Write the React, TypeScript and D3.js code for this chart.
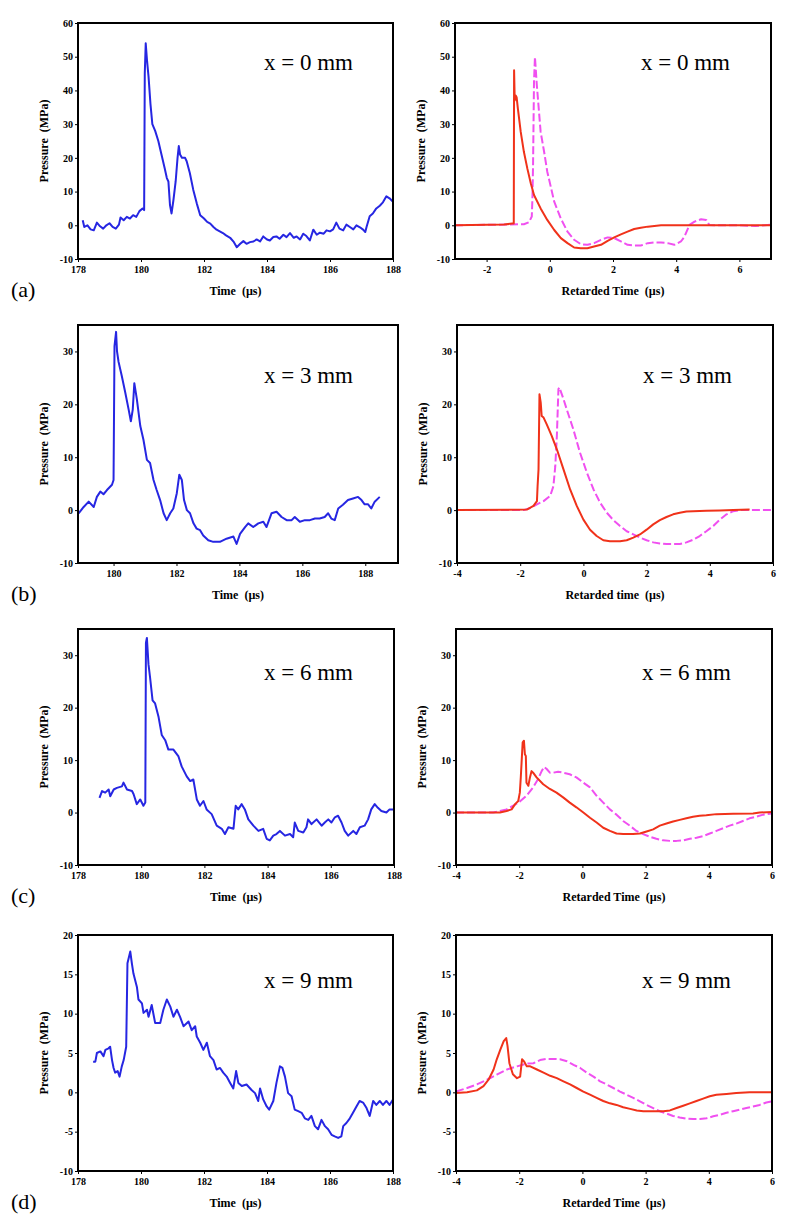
import { useEffect, useRef } from "react";
import * as d3 from "d3";

type Pt = [number, number];

// measured pressure (MPa) vs time (µs), left column
const measured0mm: Pt[] = [
  [178.15, 1.5], [178.2, -0.5], [178.3, 0], [178.4, -1.2], [178.5, -1.5], [178.6, 0.8], [178.7, -0.3], [178.8, -1],
  [178.9, 0], [179.0, 0.6], [179.1, -0.5], [179.2, -1], [179.3, 0.2], [179.35, 2.3], [179.45, 1.5], [179.55, 2.5],
  [179.65, 2], [179.75, 3], [179.85, 2.5], [179.95, 4.2], [180.05, 5], [180.1, 4.5], [180.12, 45], [180.15, 54],
  [180.19, 49], [180.24, 44], [180.3, 36], [180.36, 30], [180.45, 28], [180.55, 25], [180.65, 21], [180.75, 17],
  [180.82, 14], [180.87, 13], [180.92, 6], [180.97, 3.5], [181.03, 7.5], [181.1, 13], [181.16, 20], [181.2, 23.5],
  [181.24, 21], [181.3, 20], [181.4, 20], [181.45, 19], [181.55, 15.5], [181.66, 10.5], [181.77, 6.5], [181.88, 3],
  [182.0, 2], [182.1, 1], [182.2, 0.5], [182.3, -0.5], [182.4, -1.3], [182.5, -1.8], [182.6, -2.3], [182.7, -3],
  [182.83, -3.7], [182.95, -5], [183.04, -6.5], [183.15, -5.5], [183.25, -4.7], [183.35, -5.5], [183.46, -5],
  [183.57, -4.8], [183.67, -4.2], [183.78, -4.8], [183.88, -3.3], [184.0, -4.2], [184.09, -4.5], [184.2, -3.5],
  [184.3, -3.3], [184.4, -4], [184.52, -2.8], [184.62, -3.5], [184.73, -2.3], [184.85, -3.7], [184.94, -3.3],
  [185.05, -4.2], [185.15, -2.5], [185.25, -3.2], [185.36, -4.5], [185.47, -1.3], [185.58, -2.8], [185.68, -2.2],
  [185.8, -2.5], [185.89, -1.5], [186.0, -1.8], [186.1, -1.2], [186.2, 0.8], [186.3, -1], [186.42, -1.5],
  [186.52, 0.2], [186.63, -0.5], [186.74, -1.2], [186.84, 0], [186.95, -0.6], [187.05, -1.3], [187.12, -2],
  [187.16, -0.5], [187.26, 2.7], [187.36, 3.5], [187.47, 5], [187.58, 5.8], [187.68, 6.8], [187.79, 8.6],
  [187.89, 8], [188.0, 7],
];

const measured3mm: Pt[] = [
  [178.89, -0.6], [179.05, 0.6], [179.21, 1.6], [179.37, 0.6], [179.47, 2.5], [179.58, 3.5], [179.68, 3], [179.79, 3.8],
  [179.95, 4.8], [180.0, 5.7], [180.03, 31], [180.08, 33.7], [180.11, 30], [180.16, 28], [180.26, 25.4], [180.37, 22.3],
  [180.48, 19], [180.55, 16.8], [180.61, 19], [180.66, 24], [180.74, 21], [180.85, 15.9], [180.95, 13.3], [181.06, 9.5],
  [181.16, 8.9], [181.27, 5.7], [181.37, 3.8], [181.48, 1.9], [181.59, -0.6], [181.69, -1.9], [181.8, -0.6], [181.9, 0.3],
  [182.01, 3.2], [182.09, 6.7], [182.17, 5.7], [182.24, 1.9], [182.33, 0], [182.43, -0.6], [182.54, -2.5], [182.64, -3.5],
  [182.75, -3.8], [182.85, -4.8], [183.01, -5.7], [183.17, -6], [183.38, -6], [183.59, -5.4], [183.81, -5], [183.91, -6.4],
  [184.02, -4.5], [184.18, -3.2], [184.28, -2.5], [184.44, -3.2], [184.6, -2.5], [184.76, -2.2], [184.86, -3.2],
  [185.02, -0.6], [185.18, -0.3], [185.34, -1.3], [185.5, -1.9], [185.66, -1.9], [185.76, -1.3], [185.92, -2.2],
  [186.08, -1.9], [186.24, -1.9], [186.4, -1.6], [186.55, -1.6], [186.71, -1.3], [186.82, -0.6], [186.92, -1.6],
  [187.03, -1.9], [187.14, 0.3], [187.29, 1], [187.45, 1.9], [187.61, 2.2], [187.77, 2.5], [187.88, 1.9],
  [187.98, 1.1], [188.09, 1.1], [188.19, 0.3], [188.3, 1.6], [188.46, 2.5],
];

const measured6mm: Pt[] = [
  [178.68, 2.8], [178.76, 4.1], [178.86, 3.8], [178.97, 4.4], [179.02, 3.1], [179.13, 4.4], [179.23, 4.7], [179.39, 5],
  [179.44, 5.7], [179.55, 4.4], [179.71, 4.1], [179.76, 3.5], [179.86, 1.6], [179.97, 2.5], [180.07, 1.3], [180.13, 1.9],
  [180.15, 32.4], [180.18, 33.3], [180.23, 28.3], [180.28, 25.8], [180.36, 21.4], [180.44, 20.8], [180.55, 18.2],
  [180.65, 14.8], [180.76, 13.8], [180.86, 12], [181.02, 12], [181.18, 10.7], [181.28, 8.8], [181.44, 6.9], [181.55, 6],
  [181.65, 6.3], [181.76, 2.5], [181.86, 1.3], [181.97, 2.2], [182.07, 0.6], [182.23, -0.3], [182.39, -2.5],
  [182.55, -3.1], [182.65, -4.1], [182.76, -2.8], [182.92, -3.1], [182.99, 1.3], [183.07, 0.6], [183.18, 1.6],
  [183.28, 0.6], [183.39, -1.3], [183.55, -2.5], [183.71, -3.5], [183.86, -3.1], [183.97, -5], [184.07, -5.3],
  [184.18, -4.4], [184.28, -4.1], [184.39, -3.5], [184.55, -4.4], [184.71, -4.1], [184.81, -4.7], [184.86, -1.9],
  [184.97, -3.5], [185.13, -3.8], [185.23, -2.8], [185.28, -1.3], [185.39, -2.2], [185.55, -1.3], [185.71, -2.5],
  [185.81, -1.9], [185.92, -1.3], [186.02, -1.9], [186.13, -0.9], [186.23, -0.6], [186.34, -1.9], [186.44, -3.5],
  [186.55, -4.4], [186.71, -3.5], [186.81, -4.1], [186.92, -2.8], [187.07, -2.5], [187.18, -1.3], [187.28, 0.6],
  [187.39, 1.6], [187.49, 0.9], [187.6, 0.3], [187.76, 0], [187.86, 0.6], [187.97, 0.6],
];

const measured9mm: Pt[] = [
  [178.48, 3.9], [178.55, 3.9], [178.6, 5], [178.71, 5.2], [178.81, 4.6], [178.87, 5.4], [178.97, 5.6], [179.02, 5.8],
  [179.08, 4.1], [179.13, 3.1], [179.18, 2.5], [179.26, 2.7], [179.32, 2], [179.39, 3.3], [179.45, 4.1], [179.53, 5.8],
  [179.57, 16.4], [179.66, 17.9], [179.71, 16.4], [179.76, 15.1], [179.87, 13.4], [179.92, 11.8], [180.03, 11.3],
  [180.08, 10.1], [180.19, 10.5], [180.24, 9.6], [180.34, 11.1], [180.45, 8.8], [180.61, 8.8], [180.71, 10.5],
  [180.82, 11.8], [180.93, 10.9], [181.03, 9.6], [181.14, 10.5], [181.24, 9.6], [181.35, 8.4], [181.51, 9],
  [181.61, 7.9], [181.72, 8.4], [181.77, 7.1], [181.88, 6.3], [181.98, 5.4], [182.09, 6.3], [182.19, 4.6], [182.3, 4.1],
  [182.4, 2.9], [182.51, 3.1], [182.61, 2.5], [182.72, 2], [182.83, 1.2], [182.93, 0.5], [183.02, 2.7], [183.09, 1.2],
  [183.2, 0.8], [183.35, 1], [183.51, 0.3], [183.62, -0.1], [183.72, -1.1], [183.78, 0.5], [183.88, -0.9],
  [183.99, -1.8], [184.07, -2.2], [184.2, -1.1], [184.3, 1.2], [184.41, 3.3], [184.49, 3.1], [184.57, 2],
  [184.67, -0.1], [184.78, -0.5], [184.88, -2.2], [184.99, -2.4], [185.1, -2.6], [185.2, -3.3], [185.31, -3.5],
  [185.41, -3], [185.52, -4.3], [185.62, -4.7], [185.73, -3.5], [185.84, -4.3], [185.94, -4.7], [186.05, -5.4],
  [186.15, -5.6], [186.26, -5.8], [186.36, -5.6], [186.42, -4.3], [186.52, -3.9], [186.63, -3.3], [186.73, -2.6],
  [186.84, -1.8], [186.94, -1.1], [187.05, -1.3], [187.16, -2], [187.26, -3], [187.37, -1.1], [187.47, -1.6],
  [187.58, -1.1], [187.68, -1.6], [187.79, -1.1], [187.89, -1.6], [188.0, -0.9],
];

// solid red curves vs retarded time (right column)
const solid0mm: Pt[] = [
  [-3, 0], [-1.45, 0.2], [-1.19, 0.5], [-1.14, 0.5], [-1.13, 46], [-1.11, 37], [-1.08, 38.5], [-1.05, 38],
  [-1.01, 34.6], [-0.92, 27.7], [-0.82, 21.8], [-0.71, 16.8], [-0.6, 12.4], [-0.5, 9], [-0.29, 5], [-0.08, 1.6],
  [0.14, -1.4], [0.35, -3.8], [0.56, -5.3], [0.77, -6.6], [0.98, -6.8], [1.19, -6.8], [1.4, -6.3], [1.62, -5.8],
  [1.83, -4.6], [2.04, -3.6], [2.25, -2.7], [2.46, -1.9], [2.67, -1.1], [2.88, -0.7], [3.1, -0.4], [3.31, -0.2],
  [3.52, 0], [7, 0],
];
const dashed0mm: Pt[] = [
  [-3, 0], [-0.82, 0.3], [-0.66, 0.9], [-0.57, 2.6], [-0.55, 8], [-0.53, 17.8], [-0.5, 42.5], [-0.47, 49.9],
  [-0.41, 41.5], [-0.29, 27.7], [-0.18, 21.8], [-0.08, 15.9], [0.14, 7], [0.35, 2], [0.56, -1.9], [0.77, -4.3],
  [0.98, -5.6], [1.19, -5.8], [1.4, -5.3], [1.62, -4.3], [1.83, -3.6], [2.04, -3.8], [2.25, -4.8], [2.46, -5.8],
  [2.67, -6], [2.88, -6], [3.1, -5.3], [3.31, -5.1], [3.52, -5.1], [3.73, -5.3], [3.94, -5.8], [4.15, -4.8],
  [4.26, -3.4], [4.42, 0.1], [4.58, 1.1], [4.79, 1.8], [4.95, 1.6], [5.05, 0.1], [5.21, 0], [6, 0], [6.5, -0.2], [7, 0.2],
];

const solid3mm: Pt[] = [
  [-4, 0], [-1.79, 0.1], [-1.58, 0.8], [-1.47, 1.7], [-1.45, 4.5], [-1.42, 7.7], [-1.39, 21.9], [-1.35, 20.3],
  [-1.32, 17.8], [-1.26, 17.5], [-1.16, 16.2], [-1.0, 14], [-0.84, 11.5], [-0.63, 7.7], [-0.42, 3.9], [-0.21, 0.8],
  [0, -1.8], [0.21, -3.7], [0.42, -4.9], [0.63, -5.7], [0.84, -5.9], [1.16, -5.9], [1.37, -5.7], [1.58, -5.2],
  [1.79, -4.6], [2.0, -3.7], [2.21, -2.7], [2.42, -1.9], [2.63, -1.3], [2.84, -0.8], [3.05, -0.5], [3.26, -0.25],
  [3.47, -0.2], [3.89, -0.1], [4.32, -0.05], [4.74, 0], [5.26, 0.1],
];
const dashed3mm: Pt[] = [
  [-4, 0], [-1.89, 0], [-1.68, 0.4], [-1.47, 1.1], [-1.26, 1.7], [-1.05, 2.7], [-0.95, 4.5], [-0.89, 8.3],
  [-0.84, 14], [-0.79, 22.9], [-0.76, 23.2], [-0.63, 21], [-0.53, 19.1], [-0.32, 15.3], [-0.11, 10.9], [0.11, 7.1],
  [0.32, 3.9], [0.53, 1.4], [0.74, -0.5], [0.95, -1.9], [1.16, -3], [1.37, -4], [1.58, -4.6], [1.79, -5.2],
  [2.0, -5.7], [2.21, -6.1], [2.42, -6.3], [2.63, -6.4], [2.84, -6.4], [3.05, -6.4], [3.26, -6.1], [3.47, -5.6],
  [3.68, -4.9], [3.89, -4], [4.11, -3], [4.32, -1.8], [4.53, -0.8], [4.74, -0.2], [4.95, 0], [6, 0],
];

const solid6mm: Pt[] = [
  [-4, 0], [-2.82, 0], [-2.61, 0], [-2.4, 0.3], [-2.24, 0.6], [-2.13, 1.6], [-2.03, 2.2], [-1.98, 3.8],
  [-1.95, 6.7], [-1.89, 13.4], [-1.85, 13.7], [-1.82, 11.1], [-1.79, 10.8], [-1.77, 5.7], [-1.71, 5.1], [-1.66, 6.7],
  [-1.61, 7.9], [-1.56, 7.6], [-1.45, 6.7], [-1.24, 5.4], [-1.03, 4.5], [-0.82, 3.8], [-0.61, 2.9], [-0.4, 1.9],
  [-0.19, 1], [0.03, 0], [0.24, -1], [0.45, -1.9], [0.66, -2.9], [0.87, -3.5], [1.08, -4], [1.29, -4.1], [1.6, -4.1],
  [1.82, -4], [2.03, -3.6], [2.24, -3.2], [2.45, -2.5], [2.66, -2.1], [2.87, -1.7], [3.08, -1.4], [3.29, -1.1],
  [3.5, -0.8], [3.71, -0.6], [3.92, -0.5], [4.24, -0.3], [4.77, -0.25], [5.4, -0.2], [5.61, 0], [6, 0.1],
];
const dashed6mm: Pt[] = [
  [-4, 0], [-2.82, 0], [-2.61, 0.3], [-2.4, 0.6], [-2.19, 1.3], [-1.98, 2.1], [-1.77, 3.2], [-1.56, 4.8],
  [-1.4, 6.4], [-1.29, 7.9], [-1.21, 8.7], [-1.13, 8.3], [-1.03, 7.6], [-0.92, 7.6], [-0.77, 7.8], [-0.61, 7.6],
  [-0.4, 7.3], [-0.19, 6.7], [0.03, 5.7], [0.24, 4.8], [0.45, 3.2], [0.66, 1.9], [0.87, 0.6], [1.08, -0.4],
  [1.29, -1.6], [1.5, -2.5], [1.71, -3.5], [1.92, -4.1], [2.13, -4.6], [2.34, -5], [2.55, -5.3], [2.77, -5.4],
  [2.98, -5.4], [3.19, -5.3], [3.4, -5], [3.61, -4.8], [3.82, -4.5], [4.03, -4], [4.24, -3.5], [4.45, -3],
  [4.66, -2.5], [4.87, -2.1], [5.08, -1.6], [5.29, -1.1], [5.5, -0.8], [5.72, -0.4], [6.0, -0.2],
];

const solid9mm: Pt[] = [
  [-4, -0.1], [-3.65, 0], [-3.34, 0.25], [-3.13, 0.8], [-2.97, 1.6], [-2.81, 2.9], [-2.71, 4.2], [-2.6, 5.4],
  [-2.49, 6.5], [-2.41, 6.9], [-2.37, 5.9], [-2.31, 3.7], [-2.2, 2.3], [-2.07, 1.8], [-1.97, 2], [-1.91, 4.2],
  [-1.84, 3.9], [-1.76, 3.3], [-1.65, 3.3], [-1.44, 2.9], [-1.23, 2.5], [-1.02, 2.1], [-0.81, 1.8], [-0.6, 1.4],
  [-0.39, 1], [-0.18, 0.55], [0.03, 0.1], [0.24, -0.3], [0.45, -0.7], [0.66, -1.1], [0.87, -1.4], [1.08, -1.6],
  [1.29, -1.9], [1.51, -2.1], [1.72, -2.3], [1.93, -2.4], [2.24, -2.4], [2.56, -2.4], [2.77, -2.3], [2.98, -2],
  [3.19, -1.7], [3.4, -1.4], [3.61, -1.1], [3.82, -0.8], [4.03, -0.5], [4.24, -0.3], [4.56, -0.2], [4.87, -0.1],
  [5.29, 0], [6, 0],
];
const dashed9mm: Pt[] = [
  [-4, 0.1], [-3.65, 0.55], [-3.34, 1], [-3.02, 1.6], [-2.71, 2.25], [-2.39, 2.9], [-2.07, 3.3], [-1.76, 3.65],
  [-1.55, 3.7], [-1.34, 4.1], [-1.13, 4.25], [-0.92, 4.25], [-0.71, 4.2], [-0.49, 3.95], [-0.28, 3.5], [-0.07, 3.1],
  [0.14, 2.5], [0.35, 2], [0.56, 1.4], [0.77, 1], [0.98, 0.55], [1.19, 0.1], [1.4, -0.3], [1.61, -0.7], [1.82, -1.15],
  [2.03, -1.6], [2.24, -2], [2.45, -2.4], [2.66, -2.7], [2.87, -3], [3.08, -3.2], [3.29, -3.35], [3.51, -3.4],
  [3.72, -3.4], [3.93, -3.3], [4.14, -3.05], [4.35, -2.85], [4.56, -2.6], [4.77, -2.4], [4.98, -2.2], [5.19, -2],
  [5.4, -1.8], [5.61, -1.6], [5.82, -1.3], [6.0, -1.15],
];

// axes
const positions = ["x = 0 mm", "x = 3 mm", "x = 6 mm", "x = 9 mm"];
const panelTags = ["(a)", "(b)", "(c)", "(d)"];
const timeDomains: Pt[] = [[178, 188], [178.87, 189.04], [178, 188], [178, 188]];
const timeTicks = [[178, 180, 182, 184, 186, 188], [180, 182, 184, 186, 188], [178, 180, 182, 184, 186, 188], [178, 180, 182, 184, 186, 188]];
const retardedDomains: Pt[] = [[-3, 7], [-4, 6], [-4, 6], [-4, 6]];
const retardedTicks = [[-2, 0, 2, 4, 6], [-4, -2, 0, 2, 4, 6], [-4, -2, 0, 2, 4, 6], [-4, -2, 0, 2, 4, 6]];
const pressureDomains: Pt[] = [[-10, 60], [-10, 35], [-10, 35], [-10, 20]];
const pressureTicks = [[-10, 0, 10, 20, 30, 40, 50, 60], [-10, 0, 10, 20, 30], [-10, 0, 10, 20, 30], [-10, -5, 0, 5, 10, 15, 20]];
const retardedTitles = ["Retarded Time  (µs)", "Retarded time  (µs)", "Retarded Time  (µs)", "Retarded Time  (µs)"];

const measured = [measured0mm, measured3mm, measured6mm, measured9mm];
const solid = [solid0mm, solid3mm, solid6mm, solid9mm];
const dashed = [dashed0mm, dashed3mm, dashed6mm, dashed9mm];

// page layout of each row
const rows = [
  { top: 23, bottom: 259, left: [78, 393], right: [455, 771], tagY: 70 },
  { top: 325, bottom: 563, left: [78, 398], right: [457, 773], tagY: 383 },
  { top: 629, bottom: 865, left: [78, 394], right: [456, 772], tagY: 680 },
  { top: 935, bottom: 1171, left: [78, 393], right: [456, 772], tagY: 988 },
];

const FONT = "'Liberation Serif', 'Times New Roman', serif";
const BLUE = "#2626e2";
const RED = "#f0321a";
const MAGENTA = "#f050f0";

const drawPanel = (svg, o) => {
  const x = d3.scaleLinear().domain(o.xDomain).range([o.x0, o.x1]);
  const y = d3.scaleLinear().domain(o.yDomain).range([o.y1, o.y0]);
  const g = svg.append("g");

  g.append("clipPath").attr("id", o.id)
    .append("rect").attr("x", o.x0).attr("y", o.y0).attr("width", o.x1 - o.x0).attr("height", o.y1 - o.y0);

  const line = d3.line<Pt>().x(d => x(d[0])).y(d => y(d[1]));

  o.series.forEach(s => {
    g.append("path")
      .datum(s.data)
      .attr("clip-path", `url(#${o.id})`)
      .attr("fill", "none")
      .attr("stroke", s.color)
      .attr("stroke-width", 2)
      .attr("stroke-linejoin", "round")
      .attr("stroke-dasharray", s.dash || null)
      .attr("d", line);
  });

  const gx = g.append("g")
    .attr("transform", `translate(0,${o.y1})`)
    .call(d3.axisBottom(x).tickValues(o.xTicks).tickSize(3).tickPadding(4).tickFormat(d => String(d)));
  const gy = g.append("g")
    .attr("transform", `translate(${o.x0},0)`)
    .call(d3.axisLeft(y).tickValues(o.yTicks).tickSize(3).tickPadding(2).tickFormat(d => String(d)));
  ;[gx, gy].forEach(a => {
    a.attr("font-family", FONT).attr("font-size", 10).attr("font-weight", "bold");
    a.select(".domain").remove();
    a.selectAll("line").attr("stroke", "#000");
    a.selectAll("text").attr("fill", "#000");
  });

  g.append("rect")
    .attr("x", o.x0).attr("y", o.y0)
    .attr("width", o.x1 - o.x0).attr("height", o.y1 - o.y0)
    .attr("fill", "none").attr("stroke", "#000").attr("stroke-width", 2);

  g.append("text")
    .attr("x", (o.x0 + o.x1) / 2).attr("y", o.y1 + 36)
    .attr("text-anchor", "middle")
    .attr("font-family", FONT).attr("font-size", 12).attr("font-weight", "bold")
    .style("white-space", "pre")
    .text(o.xTitle);

  g.append("text")
    .attr("transform", `translate(${o.x0 - 30},${(o.y0 + o.y1) / 2}) rotate(-90)`)
    .attr("text-anchor", "middle")
    .attr("font-family", FONT).attr("font-size", 12).attr("font-weight", "bold")
    .style("white-space", "pre")
    .text("Pressure  (MPa)");

  g.append("text")
    .attr("x", o.x0 + 186).attr("y", o.tagY)
    .attr("font-family", FONT).attr("font-size", 23)
    .text(o.tag);
};

const App = () => {
  const ref = useRef<SVGSVGElement>(null);

  useEffect(() => {
    const svg = d3.select(ref.current);
    svg.selectAll("*").remove();

    rows.forEach((r, i) => {
      drawPanel(svg, {
        id: `clipL${i}`,
        x0: r.left[0], x1: r.left[1], y0: r.top, y1: r.bottom,
        xDomain: timeDomains[i], yDomain: pressureDomains[i],
        xTicks: timeTicks[i], yTicks: pressureTicks[i],
        xTitle: "Time  (µs)", tag: positions[i], tagY: r.tagY,
        series: [{ data: measured[i], color: BLUE }],
      });
      drawPanel(svg, {
        id: `clipR${i}`,
        x0: r.right[0], x1: r.right[1], y0: r.top, y1: r.bottom,
        xDomain: retardedDomains[i], yDomain: pressureDomains[i],
        xTicks: retardedTicks[i], yTicks: pressureTicks[i],
        xTitle: retardedTitles[i], tag: positions[i], tagY: r.tagY,
        series: [
          { data: dashed[i], color: MAGENTA, dash: "8,3" },
          { data: solid[i], color: RED },
        ],
      });
      svg.append("text")
        .attr("x", 11).attr("y", r.bottom + 38)
        .attr("font-family", FONT).attr("font-size", 22)
        .text(panelTags[i]);
    });
  }, []);

  return (
    <svg
      ref={ref}
      width={800}
      height={1231}
      style={{ position: "absolute", left: 0, top: 0, background: "#fff" }}
    />
  );
};

export default App;
